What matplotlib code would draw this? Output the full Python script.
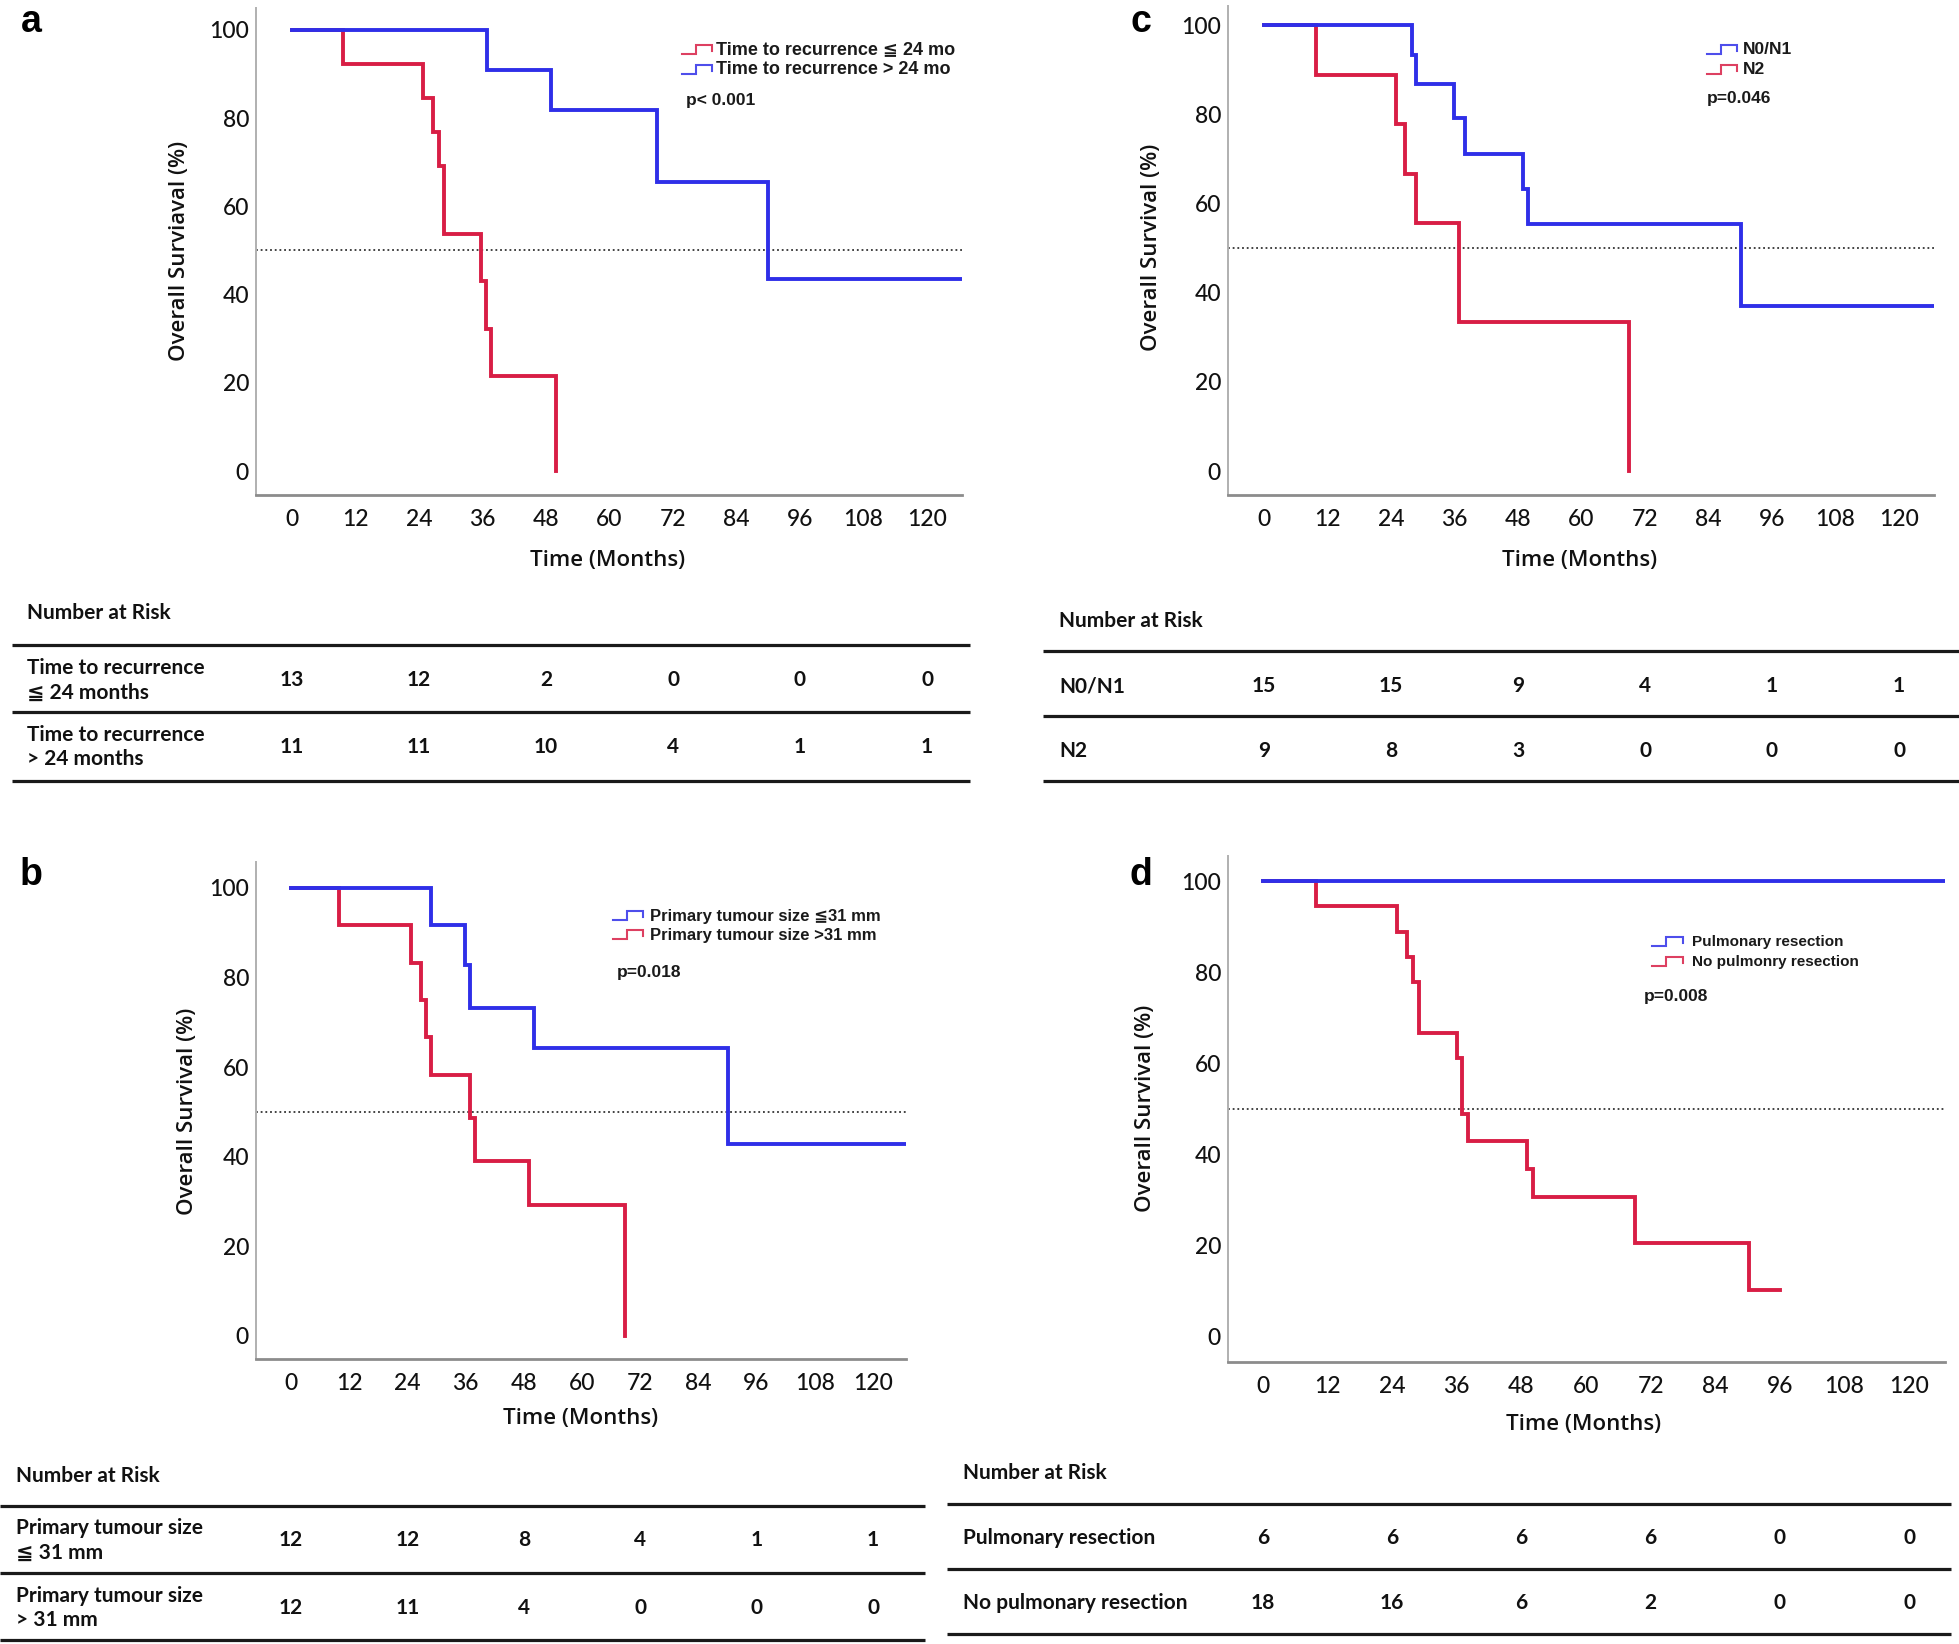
import matplotlib
matplotlib.use('Agg')
import matplotlib.pyplot as plt
from matplotlib.transforms import blended_transform_factory

# ---------------- data ----------------
xticks = [0, 12, 24, 36, 48, 60, 72, 84, 96, 108, 120]
yticks = [0, 20, 40, 60, 80, 100]
risk_times = [0, 24, 48, 72, 96, 120]

# panel a: time to recurrence
a_le24_t = [0, 9.6, 24.8, 26.7, 27.7, 28.7, 35.7, 36.6, 37.6, 49.8]
a_le24_s = [100, 92.3, 84.6, 76.9, 69.2, 53.8, 43.1, 32.3, 21.5, 0]
a_gt24_t = [0, 36.8, 48.9, 68.9, 89.9, 126.7]
a_gt24_s = [100, 90.9, 81.8, 65.5, 43.6, 43.6]
a_risk_le24 = [13, 12, 2, 0, 0, 0]
a_risk_gt24 = [11, 11, 10, 4, 1, 1]

# panel b: primary tumour size
b_le31_t = [0, 28.9, 35.9, 36.9, 50.1, 90.0, 126.9]
b_le31_s = [100, 91.7, 82.8, 73.3, 64.2, 42.9, 42.9]
b_gt31_t = [0, 9.9, 24.7, 26.8, 27.8, 28.8, 36.9, 37.9, 49.0, 68.9]
b_gt31_s = [100, 91.7, 83.3, 75.0, 66.7, 58.3, 48.7, 39.0, 29.3, 0]
b_risk_le31 = [12, 12, 8, 4, 1, 1]
b_risk_gt31 = [12, 11, 4, 0, 0, 0]

# panel c: nodal status
c_n01_t = [0, 27.9, 28.7, 35.9, 37.9, 49.0, 49.9, 90.1, 126.7]
c_n01_s = [100, 93.3, 86.7, 79.2, 71.1, 63.3, 55.4, 36.9, 36.9]
c_n2_t = [0, 9.8, 24.9, 26.7, 28.7, 36.8, 68.9]
c_n2_s = [100, 88.9, 77.8, 66.7, 55.6, 33.3, 0]
c_risk_n01 = [15, 15, 9, 4, 1, 1]
c_risk_n2 = [9, 8, 3, 0, 0, 0]

# panel d: pulmonary resection
d_res_t = [0, 126.7]
d_res_s = [100, 100]
d_nores_t = [0, 9.8, 24.9, 26.8, 27.8, 29.0, 36.1, 37.0, 38.0, 49.1, 50.1, 69.1, 90.2, 96.1]
d_nores_s = [100, 94.4, 88.9, 83.3, 77.8, 66.7, 61.1, 48.9, 42.8, 36.7, 30.5, 20.4, 10.2, 10.2]
d_risk_res = [6, 6, 6, 6, 0, 0]
d_risk_nores = [18, 16, 6, 2, 0, 0]

RED = '#D81E45'
BLUE = '#2F2FE8'

W, H = 1959, 1644
fig = plt.figure(figsize=(W / 100, H / 100), dpi=100)
fig.patch.set_facecolor('white')

TICKFONT = ['Lato', 'DejaVu Sans']
LABFONT = ['Open Sans', 'DejaVu Sans']
TABFONT = ['Lato', 'DejaVu Sans']
LEGFONT = ['Liberation Sans', 'DejaVu Sans']


def make_axes(frame, ref):
    left, top, right, bottom = frame
    x0px, x120px, y100px, y0px = ref
    ax = fig.add_axes([left / W, 1 - bottom / H, (right - left) / W, (bottom - top) / H])
    sx = (x120px - x0px) / 120.0
    ax.set_xlim((left - x0px) / sx, (right - x0px) / sx)
    sy = (y0px - y100px) / 100.0
    ax.set_ylim((y0px - bottom) / sy, (y0px - top) / sy)
    ax.set_facecolor('none')
    for s in ['top', 'right']:
        ax.spines[s].set_visible(False)
    ax.spines['left'].set_color('#b0b0b0')
    ax.spines['left'].set_linewidth(1.4)
    ax.spines['bottom'].set_color('#8c8c8c')
    ax.spines['bottom'].set_linewidth(2.0)
    ax.set_xticks(xticks)
    ax.set_yticks(yticks)
    ax.tick_params(length=0, labelsize=16.5, colors='#111111')
    ax.tick_params(axis='x', pad=10)
    ax.tick_params(axis='y', pad=5)
    for lab in ax.get_xticklabels() + ax.get_yticklabels():
        lab.set_family(TICKFONT)
        lab.set_fontweight('medium')
    ax.axhline(50, color='#333333', lw=1.3, ls=(0, (1, 1.6)), zorder=1)
    return ax


panels = {
    'a': dict(frame=(256, 8, 962, 495), ref=(292, 927, 30, 471),
              curves=[(a_le24_t, a_le24_s, RED), (a_gt24_t, a_gt24_s, BLUE)],
              letter=(31, 22), ylab='Overall Surviaval (%)', ylab_xy=(179, 251), xlab_xy=(608, 560),
              legend=dict(icon=(682, 712), tx=716, rows=(50, 70), size=13,
                          items=[('Time to recurrence \u2266 24 mo', RED), ('Time to recurrence > 24 mo', BLUE)],
                          p='p< 0.001', pxy=(686, 101)),
              table=dict(header=(27, 613), x=(12, 970), lines=(645, 712, 781), lx=27, rows=(680, 747),
                         labels=['Time to recurrence\n\u2266 24 months', 'Time to recurrence\n> 24 months'],
                         values=[a_risk_le24, a_risk_gt24])),
    'c': dict(frame=(1228, 6, 1934, 495), ref=(1264, 1899, 25, 471),
              curves=[(c_n2_t, c_n2_s, RED), (c_n01_t, c_n01_s, BLUE)],
              letter=(1141, 22), ylab='Overall Survival (%)', ylab_xy=(1151, 247), xlab_xy=(1580, 560),
              legend=dict(icon=(1707, 1737), tx=1743, rows=(50, 70), size=12.5,
                          items=[('N0/N1', BLUE), ('N2', RED)],
                          p='p=0.046', pxy=(1707, 99)),
              table=dict(header=(1059, 621), x=(1043, 1959), lines=(651, 716, 781), lx=1059, rows=(686, 751),
                         labels=['N0/N1', 'N2'],
                         values=[c_risk_n01, c_risk_n2])),
    'b': dict(frame=(256, 862, 906, 1359), ref=(291, 873, 888, 1336),
              curves=[(b_gt31_t, b_gt31_s, RED), (b_le31_t, b_le31_s, BLUE)],
              letter=(31, 875), ylab='Overall Survival (%)', ylab_xy=(187, 1111), xlab_xy=(581, 1418),
              legend=dict(icon=(613, 643), tx=650, rows=(916, 935), size=12,
                          items=[('Primary tumour size \u226631 mm', BLUE), ('Primary tumour size >31 mm', RED)],
                          p='p=0.018', pxy=(617, 972)),
              table=dict(header=(16, 1476), x=(0, 925), lines=(1506, 1573, 1640), lx=16, rows=(1540, 1608),
                         labels=['Primary tumour size\n\u2266 31 mm', 'Primary tumour size\n> 31 mm'],
                         values=[b_risk_le31, b_risk_gt31])),
    'd': dict(frame=(1228, 856, 1945, 1362), ref=(1263, 1909, 881, 1336),
              curves=[(d_nores_t, d_nores_s, RED), (d_res_t, d_res_s, BLUE)],
              letter=(1141, 875), ylab='Overall Survival (%)', ylab_xy=(1146, 1108), xlab_xy=(1584, 1424),
              legend=dict(icon=(1652, 1683), tx=1692, rows=(942, 962), size=11,
                          items=[('Pulmonary resection', BLUE), ('No pulmonry resection', RED)],
                          p='p=0.008', pxy=(1644, 996)),
              table=dict(header=(963, 1473), x=(947, 1951), lines=(1504, 1569, 1634), lx=963, rows=(1538, 1603),
                         labels=['Pulmonary resection', 'No pulmonary resection'],
                         values=[d_risk_res, d_risk_nores])),
}

axes = {}
for key, p in panels.items():
    ax = make_axes(p['frame'], p['ref'])
    for t, s, col in p['curves']:
        ax.step(t, s, where='post', color=col, lw=2.8, solid_joinstyle='miter', zorder=3)
    axes[key] = ax

# overlay in pixel coordinates for annotations and tables
ov = fig.add_axes([0, 0, 1, 1])
ov.set_xlim(0, W)
ov.set_ylim(H, 0)
ov.axis('off')
ov.patch.set_alpha(0)

for key, p in panels.items():
    ax = axes[key]
    lx, ly = p['letter']
    ov.text(lx, ly, key, ha='center', va='center', fontsize=27, fontweight='bold', family=LEGFONT)
    x, y = p['ylab_xy']
    ov.text(x, y, p['ylab'], rotation=90, ha='center', va='center', fontsize=16, family=LABFONT,
            fontweight='semibold', color='#111111')
    x, y = p['xlab_xy']
    ov.text(x, y, 'Time (Months)', ha='center', va='center', fontsize=16, family=LABFONT,
            fontweight='semibold', color='#111111')

    lg = p['legend']
    ix0, ix1 = lg['icon']
    w = ix1 - ix0
    for (txt, col), yc in zip(lg['items'], lg['rows']):
        ov.plot([ix0, ix0 + 0.45 * w, ix0 + 0.45 * w, ix1, ix1],
                [yc + 4, yc + 4, yc - 5, yc - 5, yc + 1], color=col, lw=1.5, alpha=0.85,
                solid_joinstyle='miter')
        ov.text(lg['tx'], yc, txt, ha='left', va='center', fontsize=lg['size'], fontweight='bold',
                family=LEGFONT, color='#1a1a1a')
    px, py = lg['pxy']
    ov.text(px, py, lg['p'], ha='left', va='center', fontsize=12.5, fontweight='bold',
            family=LEGFONT, color='#1a1a1a')

    tb = p['table']
    hx, hy = tb['header']
    ov.text(hx, hy, 'Number at Risk', ha='left', va='center', fontsize=15, fontweight='bold',
            family=TABFONT, color='#111111')
    x0, x1 = tb['x']
    for yl in tb['lines']:
        ov.plot([x0, x1], [yl, yl], color='#1a1a1a', lw=2.3, solid_capstyle='butt')
    trans = blended_transform_factory(ax.transData, ov.transData)
    for lab, vals, yc in zip(tb['labels'], tb['values'], tb['rows']):
        ov.text(tb['lx'], yc, lab, ha='left', va='center', fontsize=15, fontweight='bold',
                family=TABFONT, color='#111111', linespacing=1.3)
        for tval, v in zip(risk_times, vals):
            ov.text(tval, yc, str(v), transform=trans, ha='center', va='center', fontsize=15,
                    fontweight='bold', family=TABFONT, color='#111111')

fig.savefig('out.png', dpi=100, facecolor='white')
